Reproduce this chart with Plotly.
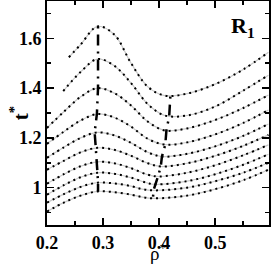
import plotly.graph_objects as go

# ---- data ----
rho_1 = [0.239, 0.26, 0.29, 0.32, 0.35, 0.38, 0.41, 0.45, 0.50, 0.55, 0.595]
t_1 = [1.524, 1.575, 1.648, 1.615, 1.50, 1.405, 1.37, 1.378, 1.416, 1.475, 1.544]

rho_2 = [0.229, 0.26, 0.29, 0.32, 0.35, 0.38, 0.41, 0.45, 0.50, 0.55, 0.595]
t_2 = [1.388, 1.465, 1.517, 1.49, 1.42, 1.335, 1.29, 1.29, 1.326, 1.39, 1.452]

rho_3 = [0.20, 0.23, 0.26, 0.29, 0.32, 0.35, 0.38, 0.41, 0.45, 0.50, 0.55, 0.595]
t_3 = [1.24, 1.305, 1.365, 1.40, 1.38, 1.33, 1.265, 1.23, 1.238, 1.272, 1.32, 1.372]

rho_4 = [0.20, 0.23, 0.26, 0.29, 0.32, 0.35, 0.38, 0.41, 0.45, 0.50, 0.55, 0.595]
t_4 = [1.176, 1.225, 1.27, 1.296, 1.282, 1.245, 1.196, 1.173, 1.182, 1.214, 1.26, 1.312]

rho_5 = [0.20, 0.23, 0.26, 0.29, 0.32, 0.35, 0.38, 0.405, 0.45, 0.50, 0.55, 0.595]
t_5 = [1.12, 1.162, 1.20, 1.222, 1.21, 1.18, 1.142, 1.125, 1.136, 1.166, 1.208, 1.256]

rho_6 = [0.20, 0.23, 0.26, 0.29, 0.32, 0.35, 0.38, 0.403, 0.45, 0.50, 0.55, 0.595]
t_6 = [1.072, 1.108, 1.142, 1.16, 1.152, 1.128, 1.098, 1.085, 1.098, 1.128, 1.168, 1.212]

rho_7 = [0.20, 0.23, 0.26, 0.29, 0.32, 0.35, 0.38, 0.398, 0.45, 0.50, 0.55, 0.595]
t_7 = [1.016, 1.054, 1.086, 1.104, 1.098, 1.078, 1.052, 1.045, 1.06, 1.09, 1.13, 1.172]

rho_8 = [0.20, 0.23, 0.26, 0.29, 0.32, 0.35, 0.38, 0.393, 0.45, 0.50, 0.55, 0.595]
t_8 = [0.972, 1.01, 1.042, 1.06, 1.056, 1.04, 1.018, 1.013, 1.026, 1.054, 1.092, 1.134]

rho_9 = [0.20, 0.23, 0.26, 0.29, 0.32, 0.35, 0.37, 0.39, 0.45, 0.50, 0.55, 0.595]
t_9 = [0.94, 0.974, 1.003, 1.02, 1.017, 1.006, 0.994, 0.989, 1.0, 1.026, 1.06, 1.10]

rho_10 = [0.20, 0.23, 0.26, 0.29, 0.32, 0.35, 0.37, 0.389, 0.45, 0.50, 0.55, 0.595]
t_10 = [0.904, 0.94, 0.968, 0.985, 0.982, 0.972, 0.962, 0.957, 0.968, 0.994, 1.03, 1.072]

max_rho = [0.291, 0.291, 0.291, 0.289, 0.285, 0.287, 0.288, 0.290, 0.291, 0.291]
max_t = [1.648, 1.517, 1.40, 1.296, 1.222, 1.16, 1.104, 1.06, 1.02, 0.985]

min_rho = [0.42, 0.418, 0.413, 0.411, 0.405, 0.403, 0.398, 0.393, 0.39, 0.389]
min_t = [1.366, 1.288, 1.23, 1.173, 1.125, 1.085, 1.045, 1.013, 0.989, 0.957]

x_ticks = [0.2, 0.3, 0.4, 0.5]
y_ticks = [1.0, 1.2, 1.4, 1.6]
y_tick_text = ["1", "1.2", "1.4", "1.6"]

curves = [(rho_1, t_1), (rho_2, t_2), (rho_3, t_3), (rho_4, t_4), (rho_5, t_5),
          (rho_6, t_6), (rho_7, t_7), (rho_8, t_8), (rho_9, t_9), (rho_10, t_10)]

fig = go.Figure()
for rx, ty in curves:
    fig.add_trace(go.Scatter(x=rx, y=ty, mode="lines", line_shape="spline",
                             line=dict(color="#c8c8c8", width=1.2),
                             showlegend=False, hoverinfo="skip"))
    fig.add_trace(go.Scatter(x=rx, y=ty, mode="lines", line_shape="spline",
                             line=dict(color="black", width=2, dash="2px,4px"),
                             showlegend=False, hoverinfo="skip"))

for rx, ty in [(max_rho, max_t), (min_rho, min_t)]:
    fig.add_trace(go.Scatter(x=rx, y=ty, mode="lines",
                             line=dict(color="black", width=2.5, dash="2px,6px,11px,6px"),
                             showlegend=False, hoverinfo="skip"))

serif = "Liberation Serif"
tickfont = dict(family=serif, size=18, color="black", weight="bold")

fig.update_xaxes(range=[0.2, 0.596], tickvals=x_ticks, ticks="inside", ticklen=7,
                 tickwidth=1.5, tickcolor="black", showline=True, linewidth=2,
                 linecolor="black", mirror="ticks", showgrid=False, zeroline=False,
                 tickfont=tickfont, automargin=False, ticklabelstandoff=0,
                 minor=dict(dtick=0.05, tick0=0.2, ticks="inside", ticklen=4,
                            tickwidth=1.5, tickcolor="black", showgrid=False))
fig.update_yaxes(range=[0.85, 1.75], tickvals=y_ticks, ticktext=y_tick_text,
                 ticks="inside", ticklen=7, tickwidth=1.5, tickcolor="black",
                 showline=True, linewidth=2, linecolor="black", mirror="ticks",
                 showgrid=False, zeroline=False, tickfont=tickfont, automargin=False,
                 minor=dict(dtick=0.1, tick0=0.9, ticks="inside", ticklen=4,
                            tickwidth=1.5, tickcolor="black", showgrid=False))

# axis titles
fig.add_annotation(x=-0.125, y=0.5, xref="paper", yref="paper", xanchor="center",
                   yanchor="middle", showarrow=False, textangle=-90,
                   text="t<sup>*</sup>",
                   font=dict(family=serif, size=21, color="black", weight="bold"))
fig.add_annotation(x=0.5, y=-0.185, xref="paper", yref="paper", xanchor="center",
                   yanchor="bottom", showarrow=False,
                   text="ρ<sup>*</sup>",
                   font=dict(family=serif, size=19, color="black"))

fig.add_annotation(x=0.82, y=0.955, xref="paper", yref="paper", xanchor="left",
                   yanchor="top", showarrow=False,
                   text="<b>R</b><sub><b>1</b></sub>",
                   font=dict(family=serif, size=22, color="black"))

fig.update_layout(width=273, height=266, margin=dict(l=47, r=4, t=1, b=41),
                  plot_bgcolor="white", paper_bgcolor="white")

fig.write_html("out.html", config={"displayModeBar": False, "staticPlot": True},
               post_script="document.body.style.margin='0';document.body.style.overflow='hidden';")
